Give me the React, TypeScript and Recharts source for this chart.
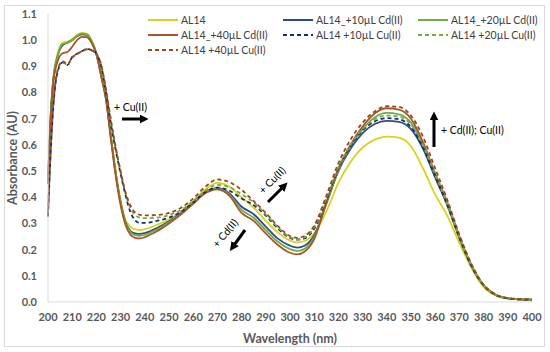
import React from 'react';
import { LineChart, Line, XAxis, YAxis } from 'recharts';

const wavelengths = [200, 201, 202, 204, 206, 208, 210, 212, 214, 216, 218, 220, 222, 224, 226, 228, 230, 232, 234, 236, 238, 240, 245, 250, 255, 260, 265, 270, 275, 280, 285, 290, 295, 300, 303, 306, 310, 315, 320, 325, 330, 335, 340, 345, 350, 355, 360, 365, 370, 375, 380, 385, 390, 395, 400];

const al14 = [0.47, 0.70, 0.84, 0.95, 0.99, 0.995, 1.005, 1.02, 1.028, 1.025, 1.0, 0.95, 0.87, 0.78, 0.64, 0.50, 0.39, 0.315, 0.288, 0.277, 0.275, 0.278, 0.295, 0.315, 0.345, 0.385, 0.43, 0.455, 0.44, 0.40, 0.36, 0.31, 0.265, 0.235, 0.228, 0.233, 0.262, 0.345, 0.455, 0.535, 0.59, 0.62, 0.632, 0.628, 0.595, 0.51, 0.41, 0.33, 0.225, 0.13, 0.058, 0.025, 0.013, 0.01, 0.008];
const cd10 = [0.46, 0.69, 0.83, 0.94, 0.98, 0.99, 1.0, 1.015, 1.022, 1.02, 0.995, 0.948, 0.865, 0.775, 0.63, 0.49, 0.38, 0.305, 0.272, 0.262, 0.26, 0.263, 0.282, 0.308, 0.34, 0.38, 0.42, 0.435, 0.415, 0.364, 0.335, 0.288, 0.242, 0.215, 0.208, 0.215, 0.255, 0.375, 0.50, 0.585, 0.645, 0.68, 0.692, 0.688, 0.66, 0.585, 0.475, 0.37, 0.245, 0.137, 0.063, 0.027, 0.014, 0.01, 0.009];
const cd20 = [0.46, 0.69, 0.83, 0.94, 0.985, 0.99, 1.0, 1.017, 1.025, 1.022, 0.997, 0.948, 0.865, 0.775, 0.63, 0.49, 0.38, 0.302, 0.268, 0.255, 0.253, 0.257, 0.277, 0.305, 0.338, 0.378, 0.418, 0.433, 0.41, 0.352, 0.322, 0.275, 0.23, 0.202, 0.195, 0.203, 0.248, 0.378, 0.505, 0.595, 0.66, 0.705, 0.722, 0.717, 0.685, 0.60, 0.485, 0.375, 0.248, 0.138, 0.064, 0.027, 0.014, 0.01, 0.009];
const cd40 = [0.45, 0.68, 0.82, 0.92, 0.95, 0.955, 0.975, 1.0, 1.013, 1.012, 0.99, 0.945, 0.86, 0.77, 0.62, 0.48, 0.37, 0.295, 0.258, 0.245, 0.243, 0.248, 0.27, 0.30, 0.335, 0.375, 0.415, 0.43, 0.405, 0.34, 0.31, 0.262, 0.218, 0.188, 0.182, 0.192, 0.24, 0.38, 0.51, 0.60, 0.67, 0.72, 0.74, 0.735, 0.70, 0.61, 0.49, 0.38, 0.25, 0.14, 0.065, 0.028, 0.014, 0.01, 0.009];
const cu10 = [0.326, 0.55, 0.72, 0.88, 0.915, 0.905, 0.935, 0.948, 0.958, 0.966, 0.962, 0.948, 0.90, 0.80, 0.68, 0.58, 0.49, 0.41, 0.345, 0.312, 0.302, 0.302, 0.31, 0.322, 0.345, 0.38, 0.42, 0.437, 0.425, 0.395, 0.37, 0.33, 0.28, 0.245, 0.238, 0.243, 0.28, 0.39, 0.51, 0.595, 0.655, 0.69, 0.702, 0.698, 0.668, 0.59, 0.48, 0.37, 0.245, 0.137, 0.063, 0.027, 0.014, 0.01, 0.009];
const cu20 = [0.34, 0.56, 0.73, 0.885, 0.918, 0.905, 0.933, 0.946, 0.956, 0.964, 0.96, 0.946, 0.90, 0.805, 0.69, 0.585, 0.495, 0.415, 0.36, 0.332, 0.322, 0.32, 0.322, 0.332, 0.352, 0.385, 0.425, 0.447, 0.438, 0.412, 0.38, 0.335, 0.285, 0.248, 0.24, 0.247, 0.285, 0.395, 0.515, 0.60, 0.66, 0.698, 0.712, 0.708, 0.678, 0.60, 0.49, 0.378, 0.25, 0.14, 0.064, 0.028, 0.014, 0.011, 0.01];
const cu40 = [0.34, 0.56, 0.73, 0.885, 0.92, 0.908, 0.935, 0.948, 0.958, 0.966, 0.962, 0.948, 0.905, 0.81, 0.695, 0.59, 0.50, 0.42, 0.37, 0.342, 0.333, 0.331, 0.332, 0.34, 0.36, 0.395, 0.44, 0.468, 0.458, 0.428, 0.385, 0.34, 0.29, 0.252, 0.245, 0.252, 0.292, 0.405, 0.53, 0.62, 0.685, 0.728, 0.748, 0.745, 0.712, 0.63, 0.51, 0.39, 0.258, 0.145, 0.066, 0.029, 0.015, 0.012, 0.011];

const xTicks = [200, 210, 220, 230, 240, 250, 260, 270, 280, 290, 300, 310, 320, 330, 340, 350, 360, 370, 380, 390, 400];
const yTicks = [0, 0.1, 0.2, 0.3, 0.4, 0.5, 0.6, 0.7, 0.8, 0.9, 1.0, 1.1];

const series = [
  { key: 'al14', name: 'AL14', values: al14, color: '#D9D21C', dash: undefined },
  { key: 'cd10', name: 'AL14_+10µL Cd(II)', values: cd10, color: '#2F4B8C', dash: undefined },
  { key: 'cd20', name: 'AL14_+20µL Cd(II)', values: cd20, color: '#70AD47', dash: undefined },
  { key: 'cd40', name: 'AL14_+40µL Cd(II)', values: cd40, color: '#A5572A', dash: undefined },
  { key: 'cu10', name: 'AL14 +10µL Cu(II)', values: cu10, color: '#1F2A6B', dash: '4 3' },
  { key: 'cu20', name: 'AL14 +20µL Cu(II)', values: cu20, color: '#70AD47', dash: '4 3' },
  { key: 'cu40', name: 'AL14 +40µL Cu(II)', values: cu40, color: '#9C4A1A', dash: '4 3' },
];

const rows = wavelengths.map((wl, i) => {
  const r: Record<string, number> = { wl };
  series.forEach((s) => { r[s.key] = s.values[i]; });
  return r;
});

// legend slots: [column x, row y] per series
const legendPos: [number, number][] = [
  [148, 20], [283, 20], [418, 20],
  [148, 35], [283, 35], [418, 35],
  [148, 50],
];
const legendOrder = ['al14', 'cd10', 'cd20', 'cd40', 'cu10', 'cu20', 'cu40'];

const font = 'Lato, "Open Sans", sans-serif';
const tickStyle = { fill: '#595959', fontSize: 11, fontWeight: 700, fontFamily: font };

export default function App() {
  return (
    <div style={{ position: 'absolute', left: 0, top: 0, width: 550, height: 352, background: '#fff' }}>
      <LineChart width={550} height={352} data={rows} margin={{ top: 14, right: 18, bottom: 0, left: 0 }}>
        <XAxis
          dataKey="wl"
          type="number"
          domain={[200, 400]}
          ticks={xTicks}
          height={50}
          tickLine={false}
          tickSize={0}
          tickMargin={11}
          axisLine={{ stroke: '#D9D9D9' }}
          tick={tickStyle}
          interval={0}
        />
        <YAxis
          domain={[0, 1.1]}
          ticks={yTicks}
          width={48}
          tickLine={false}
          tickSize={0}
          tickMargin={11}
          axisLine={{ stroke: '#D9D9D9' }}
          tick={tickStyle}
          tickFormatter={(v: number) => v.toFixed(1)}
          interval={0}
        />
        {series.map((s) => (
          <Line
            key={s.key}
            dataKey={s.key}
            type="monotone"
            stroke={s.color}
            strokeWidth={1.8}
            strokeDasharray={s.dash}
            dot={false}
            isAnimationActive={false}
          />
        ))}
      </LineChart>
      <svg width={550} height={352} style={{ position: 'absolute', left: 0, top: 0, pointerEvents: 'none' }}>
        <defs>
          <marker id="ah" viewBox="0 0 10 10" refX="6" refY="5" markerWidth="3" markerHeight="3" orient="auto">
            <path d="M0,0 L10,5 L0,10 z" fill="#000" />
          </marker>
        </defs>
        <rect x={4.5} y={5.5} width={540} height={341} fill="none" stroke="#D9D9D9" />
        {legendOrder.map((k, i) => {
          const s = series.find((x) => x.key === k)!;
          const [lx, ly] = legendPos[i];
          return (
            <g key={k}>
              <line x1={lx} x2={lx + 30} y1={ly} y2={ly} stroke={s.color} strokeWidth={2} strokeDasharray={s.dash} />
              <text x={lx + 33} y={ly} dominantBaseline="central" fontSize={10.5} fill="#404040" fontFamily={font}>{s.name}</text>
            </g>
          );
        })}
        <text x={12} y={158} transform="rotate(-90 12 158)" textAnchor="middle" dominantBaseline="central" fontSize={12.5} fontWeight={700} fill="#595959" fontFamily={font}>Absorbance (AU)</text>
        <text x={290} y={338} textAnchor="middle" dominantBaseline="central" fontSize={12.5} fontWeight={700} fill="#595959" fontFamily={font}>Wavelength (nm)</text>

        <text x={114} y={107} dominantBaseline="central" fontSize={10.5} fill="#000" fontFamily={font}>+ Cu(II)</text>
        <line x1={122} y1={119} x2={145} y2={119} stroke="#000" strokeWidth={3} markerEnd="url(#ah)" />

        <line x1={434} y1={147} x2={434} y2={115} stroke="#000" strokeWidth={3} markerEnd="url(#ah)" />
        <text x={441} y={130} dominantBaseline="central" fontSize={10.5} fill="#000" fontFamily={font}>+ Cd(II); Cu(II)</text>

        <text x={225} y={233} transform="rotate(-50 225 233)" textAnchor="middle" dominantBaseline="central" fontSize={10.5} fill="#000" fontFamily={font}>+ Cd(II)</text>
        <line x1={245} y1={230} x2={232} y2={248} stroke="#000" strokeWidth={3} markerEnd="url(#ah)" />

        <text x={272} y={180} transform="rotate(-45 272 180)" textAnchor="middle" dominantBaseline="central" fontSize={10.5} fill="#000" fontFamily={font}>+ Cu(II)</text>
        <line x1={268} y1={202} x2={285} y2={185} stroke="#000" strokeWidth={3} markerEnd="url(#ah)" />
      </svg>
    </div>
  );
}
